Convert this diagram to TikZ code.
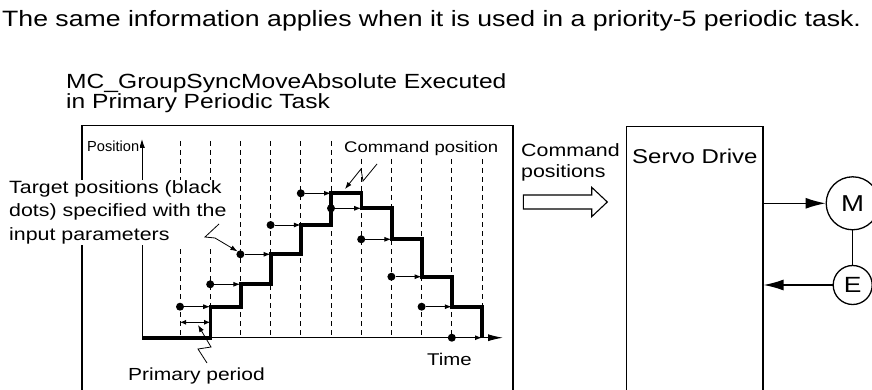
\documentclass[tikz,border=0pt]{standalone}
\usepackage{fontspec}
\setmainfont[FakeStretch=1.2]{Liberation Sans}
\newfontfamily\narrowfont{Liberation Sans}
\usetikzlibrary{arrows.meta}

\begin{document}
\begin{tikzpicture}[x=1pt, y=-1pt,
        boxline/.style={line width=1.3pt},
        periodline/.style={line width=0.9pt, dash pattern=on 5pt off 4pt},
        stairline/.style={line width=3.8pt, line join=miter},
        target/.style={circle, fill=black, inner sep=0pt, minimum size=8pt},
        feed/.style={line width=1pt, -{Latex[length=7pt, width=5pt]}},
        zap/.style={line width=0.8pt, -{Latex[length=7pt, width=5pt]}},
        drive/.style={line width=1.3pt, -{Latex[length=20pt, width=11pt]}},
        lbl/.style={inner sep=0pt, font=\fontsize{17.8}{21.5}\selectfont},
        motor/.style={circle, draw, line width=1.3pt, inner sep=0pt}]

        \useasboundingbox (0,0) rectangle (872,390);

        % Headings
        \node[lbl, anchor=base west, font=\fontsize{22.2}{22.2}\selectfont] (note) at (2,26.7)
            {The same information applies when it is used in a priority-5 periodic task.};
        \node[lbl, anchor=base west, align=left, font=\fontsize{20.5}{20}\selectfont] (task) at (66,108.3)
            {MC\_GroupSyncMoveAbsolute Executed\\in Primary Periodic Task};

        % Controller: plot of positions over time
        \draw[boxline] (82,392) |- (513,125.7) -- (513,392);
        \foreach \k in {0,...,10}
            \draw[periodline] (180+30.2*\k,141) -- (180+30.2*\k,337.7);
        \coordinate (origin) at (142,337.7);
        \draw[line width=1pt, -{Latex[length=15pt, width=7pt]}] (origin) -- (503,337.7);
        \draw[line width=1pt, -{Latex[length=9pt, width=6pt]}] (origin) -- (142,139);
        \draw[stairline] (origin) -- (210.4,337.7) |- (240.6,306.7) |- (270.8,284.3)
            |- (301,254.3) |- (331.2,225) |- (361.4,193.3) |- (391.6,208.3)
            |- (421.8,239.3) |- (452,276.7) |- (482.2,306.7) -- (482.2,337.7);
        \foreach \k/\y in {0/306.7, 1/284.3, 2/254.3, 3/225, 4/193.3,
                           5/208.3, 6/239.3, 7/276.7, 8/306.7, 9/337.7} {
            \node[target] (dot\k) at (180+30.2*\k,\y) {};
            \draw[feed] (dot\k) -- (210.2+30.2*\k,\y);
        }
        \draw[line width=0.9pt, {Latex[length=6pt, width=5pt]}-{Latex[length=6pt, width=5pt]}]
            (180,322.3) -- (210.2,322.3);

        % Labels in the plot
        \node[inner sep=0.5pt, fill=white, anchor=base west, font=\narrowfont\fontsize{14.6}{14.6}\selectfont]
            (poslbl) at (86.5,151.7) {Position};
        \node[lbl, fill=white, inner sep=1pt, anchor=base west, font=\fontsize{15.4}{15.4}\selectfont]
            (cmdlbl) at (343,153) {Command position};
        \node[lbl, fill=white, inner sep=1pt, anchor=base west, align=left,
              font=\fontsize{17.8}{23.3}\selectfont] (tgtlbl) at (8,240)
            {Target positions (black\\dots) specified with the\\input parameters};
        \node[lbl, anchor=base west, font=\fontsize{17}{17}\selectfont] (timelbl) at (427,365) {Time};
        \node[lbl, anchor=base west, font=\fontsize{17.5}{17.5}\selectfont] (perlbl) at (128,380) {Primary period};

        \coordinate (cmdzap) at (377,164);
        \draw[zap] (cmdzap) -- (363,181) -- (361,169) -- (345,189);
        \coordinate (tgtzap) at (219,224);
        \draw[zap] (tgtzap) -- (205,237) -- (215,238) -- (dot2.north west);
        \coordinate (perzap) at (207,363);
        \draw[zap] (perzap) -- (198,349) -- (211,347) -- (198,325);

        % Transfer to the drive
        \node[lbl, anchor=base west, align=left] (cmdpos) at (521,178) {Command\\positions};
        \draw[line width=1.1pt] (523.3,195) -- (591.7,195) -- (591.7,187.3) -- (607.3,202)
            -- (591.7,216.7) -- (591.7,209) -- (523.3,209) -- cycle;

        % Servo drive, motor and encoder
        \node[draw, boxline, anchor=north west, minimum width=136.3pt, minimum height=270pt]
            (servo) at (626,125.7) {};
        \node[lbl, anchor=base west, font=\fontsize{20}{20}\selectfont] (servolbl) at (632,163.3) {Servo Drive};
        \node[motor, minimum size=53pt, font=\fontsize{23}{23}\selectfont] (m) at (852.7,203.3) {M};
        \node[motor, minimum size=39pt, font=\fontsize{22}{22}\selectfont] (e) at (852.7,285) {E};
        \draw[boxline] (m) -- (e);
        \draw[drive] (servo.east |- m) -- (m);
        \draw[drive] (e) -- (servo.east |- e);
    \end{tikzpicture}
\end{document}
